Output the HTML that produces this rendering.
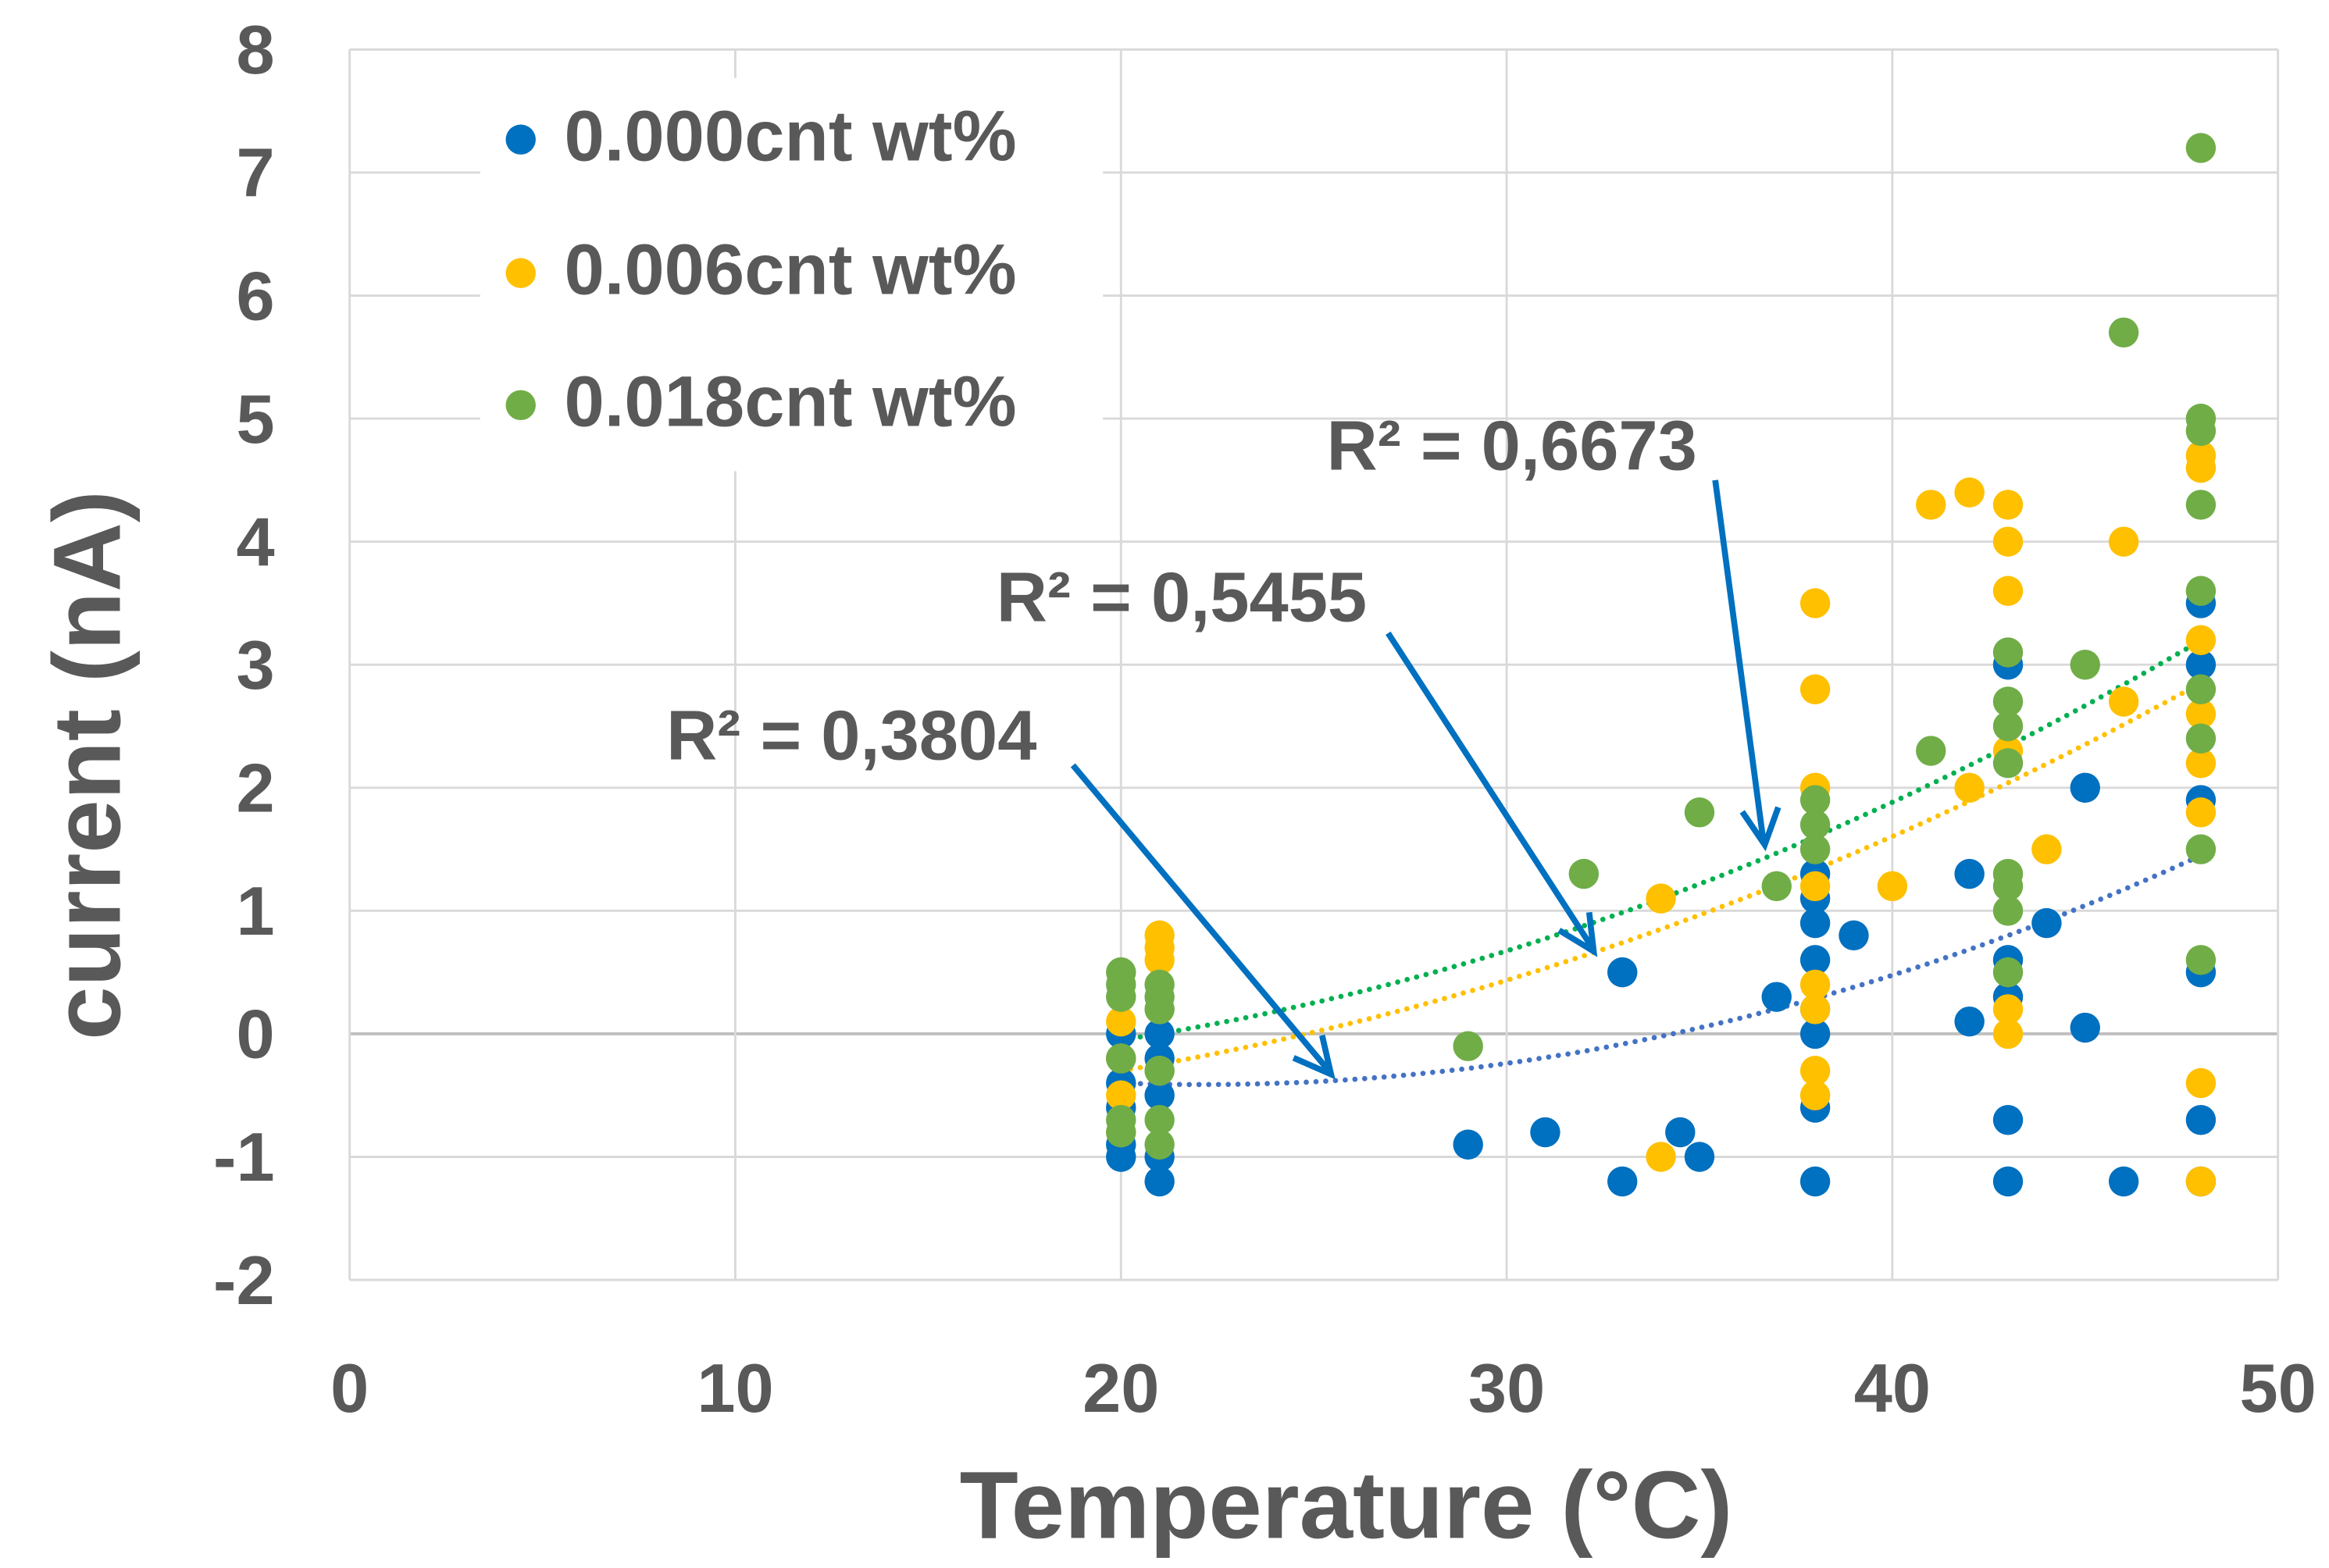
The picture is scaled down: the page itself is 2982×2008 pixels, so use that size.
<!DOCTYPE html>
<html><head><meta charset="utf-8"><style>
html,body{margin:0;padding:0;background:#fff;}
svg{display:block;}
text{font-family:"Liberation Sans",sans-serif;font-weight:bold;fill:#595959;}
</style></head>
<body>
<svg id="chart" width="2982" height="2008" viewBox="0 0 1552 1045" preserveAspectRatio="none" xmlns="http://www.w3.org/2000/svg">
<g id="grid"></g>
<g id="trends"></g>
<g id="points"></g>
<g id="ticks"></g>
<text x="897" y="1025" text-anchor="middle" font-size="64">Temperature (°C)</text>
<text transform="translate(80,510) rotate(-90)" text-anchor="middle" font-size="64">current (nA)</text>
<g>
<rect x="320" y="52" width="415" height="262" fill="#fff"/>
<circle cx="347" cy="93" r="10" fill="#0070C0"/>
<text x="376" y="107" font-size="48">0.000cnt wt%</text>
<circle cx="347" cy="182" r="10" fill="#FFC000"/>
<text x="376" y="196" font-size="48">0.006cnt wt%</text>
<circle cx="347" cy="270" r="10" fill="#70AD47"/>
<text x="376" y="284" font-size="48">0.018cnt wt%</text>
</g>
<g>
<text x="884" y="313" font-size="47">R² = 0,6673</text>
<text x="664" y="414" font-size="47">R² = 0,5455</text>
<text x="444" y="506" font-size="47">R² = 0,3804</text>
<g stroke="#0070C0" stroke-width="4" fill="none">
<line x1="1143" y1="320" x2="1175" y2="560"/>
<polyline points="1161,541 1176,563 1185,538"/>
<line x1="925" y1="422" x2="1060" y2="630"/>
<polyline points="1039,620 1062,634 1059,608"/>
<line x1="715" y1="510" x2="885" y2="713"/>
<polyline points="862,705 887,716 881,690"/>
</g>
</g>
</svg>
<script>
const xTicks=[0,10,20,30,40,50];
const yTicks=[-2,-1,0,1,2,3,4,5,6,7,8];
const blueX=[20,20,20,20,20,20,21,21,21,21,21,29,31,33,33,34.5,35,37,38,38,38,38,38,38,38,38,39,42,42,43,43,43,43,43,44,45,45,46,48,48,48,48,48,48];
const blueY=[-1.0,-0.9,-0.6,-0.4,-0.2,0.0,-1.2,-1.0,-0.5,-0.2,0.0,-0.9,-0.8,-1.2,0.5,-0.8,-1.0,0.3,-1.2,-0.6,0.0,0.2,0.6,0.9,1.1,1.3,0.8,1.3,0.1,-1.2,-0.7,0.3,0.6,3.0,0.9,2.0,0.05,-1.2,-1.2,-0.7,0.5,1.9,3.0,3.5];
const orangeX=[20,20,20,20,21,21,21,21,21,34,34,38,38,38,38,38,38,38,38,40,41,42,42,43,43,43,43,43,43,44,46,46,48,48,48,48,48,48,48,48];
const orangeY=[-0.8,-0.5,-0.2,0.1,0.8,0.7,0.6,0.2,-0.3,-1.0,1.1,3.5,2.8,2.0,1.2,0.4,0.2,-0.3,-0.5,1.2,4.3,4.4,2.0,4.3,4.0,3.6,2.3,0.2,0.0,1.5,4.0,2.7,4.7,4.6,3.2,2.6,2.2,1.8,-0.4,-1.2];
const greenX=[20,20,20,20,20,20,21,21,21,21,21,21,29,32,35,37,38,38,38,41,43,43,43,43,43,43,43,43,45,46,48,48,48,48,48,48,48,48,48];
const greenY=[0.5,0.4,0.3,-0.2,-0.7,-0.8,0.4,0.3,0.2,-0.3,-0.7,-0.9,-0.1,1.3,1.8,1.2,1.9,1.7,1.5,2.3,3.1,2.7,2.5,2.2,1.3,1.2,1.0,0.5,3.0,5.7,7.2,5.0,4.9,4.3,3.6,2.8,2.4,1.5,0.6];
// polynomial trendline coefficients y = a + b*(x-20) + c*(x-20)^2 for blue, orange, green
const trendA=[-0.4,-0.3,-0.05];
const trendB=[-0.0118,0.0518,0.0482];
const trendC=[0.00278,0.00217,0.00242];
const trendRange=[20,48];
const NS='http://www.w3.org/2000/svg';
const X0=233,X1=1518,Y0=853,Y1=33;
function sx(v){return X0+(v-0)/(50-0)*(X1-X0);}
function sy(v){return Y0-(v-(-2))/(8-(-2))*(Y0-Y1);}
function mk(tag,attrs,parent){const e=document.createElementNS(NS,tag);for(const k in attrs)e.setAttribute(k,attrs[k]);parent.appendChild(e);return e;}
const grid=document.getElementById('grid');
yTicks.forEach(t=>{
 const l=mk('line',{x1:X0,x2:X1,y1:sy(t),y2:sy(t),stroke:t===0?'#bfbfbf':'#d9d9d9','stroke-width':t===0?2:1.5},grid);
 
 
});
xTicks.forEach(t=>{
 const l=mk('line',{x1:sx(t),x2:sx(t),y1:Y1,y2:Y0,stroke:'#d9d9d9','stroke-width':1.5},grid);
 
 
});
const ticks=document.getElementById('ticks');
yTicks.forEach(t=>{
 const e=mk('text',{x:183,y:sy(t)+16,'text-anchor':'end','font-size':46},ticks);
 e.textContent=String(t);
 
 
});
xTicks.forEach(t=>{
 const e=mk('text',{x:sx(t),y:941,'text-anchor':'middle','font-size':46},ticks);
 e.textContent=String(t);
 
 
});
const trends=document.getElementById('trends');
function trend(i,color,name){
 const mn=trendRange[0],mx=trendRange[1];
 let d='';
 for(let k=0;k<=60;k++){const x=mn+(mx-mn)*k/60;const t=x-20;const y=trendA[i]+trendB[i]*t+trendC[i]*t*t;d+=(k?'L':'M')+sx(x).toFixed(1)+','+sy(y).toFixed(1);}
 const p=mk('path',{d:d,fill:'none',stroke:color,'stroke-width':3.5,'stroke-dasharray':'0 6.5','stroke-linecap':'round'},trends);
 
 
}
const pts=document.getElementById('points');
function series(xs,ys,color,name){
 for(let i=0;i<xs.length;i++){
  const c=mk('circle',{cx:sx(xs[i]),cy:sy(ys[i]),r:10,fill:color},pts);
  
  
 }
}
series(blueX,blueY,'#0070C0','point-0000');
series(orangeX,orangeY,'#FFC000','point-0006');
series(greenX,greenY,'#70AD47','point-0018');
trend(0,'#4472C4','trendline-0000');
trend(1,'#FFC000','trendline-0006');
trend(2,'#00B050','trendline-0018');
</script>
</body></html>
